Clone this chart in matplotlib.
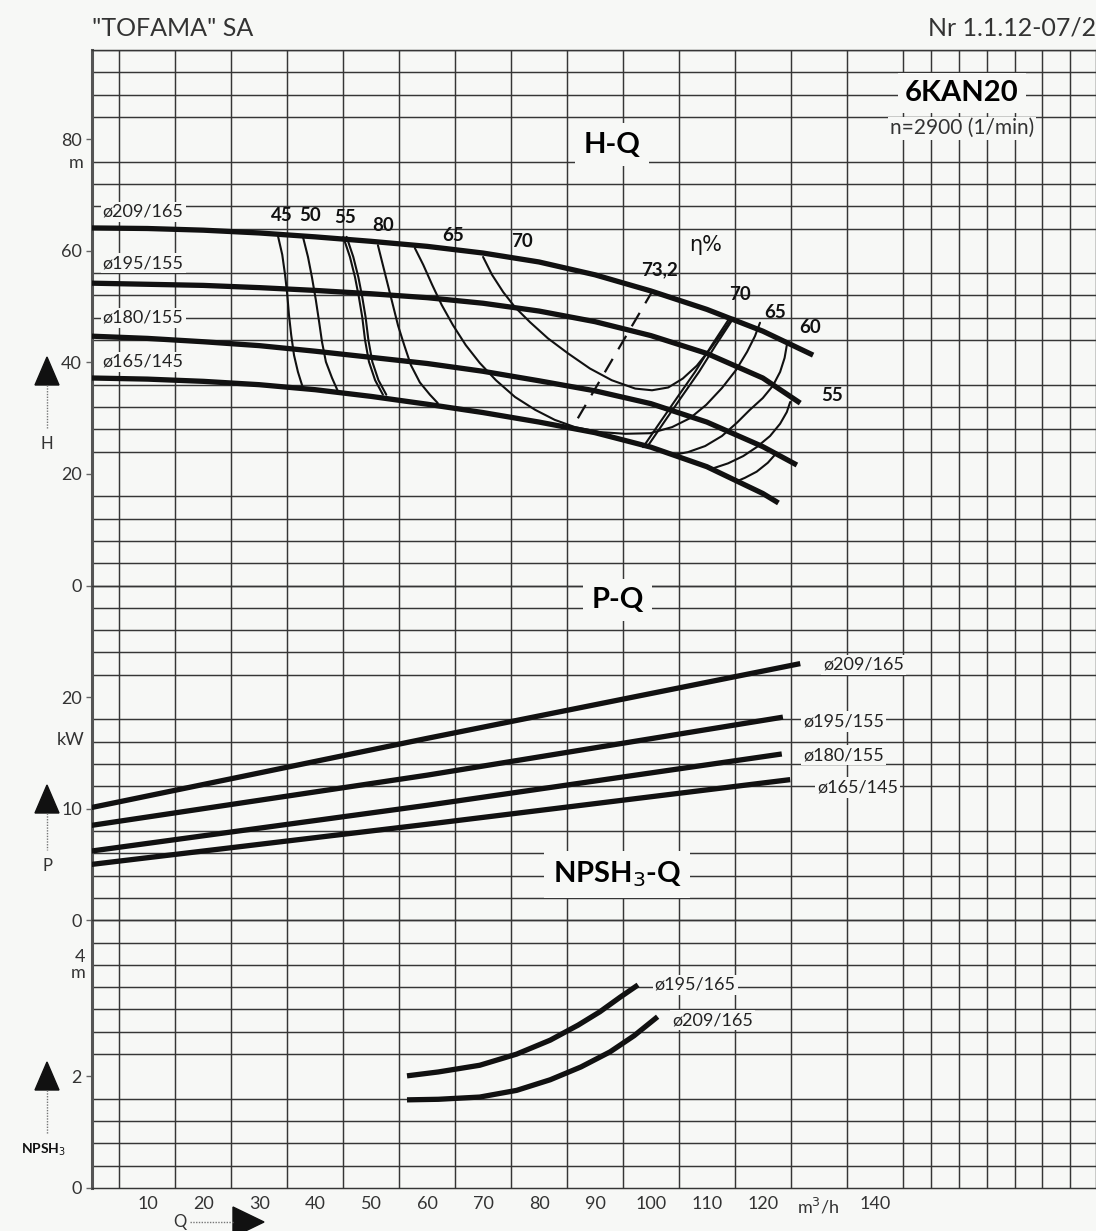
import numpy as np
import matplotlib.pyplot as plt
from matplotlib.patches import Polygon

plt.rcParams['font.family'] = ['Lato', 'DejaVu Sans']

W, HT = 1096, 1231
BG = '#f7f8f6'
INK = '#111111'
GRID = '#363636'

# flow axis (m3/h)
q_ticks = [10, 20, 30, 40, 50, 60, 70, 80, 90, 100, 110, 120, 130, 140]
q_ticklabels = ['10', '20', '30', '40', '50', '60', '70', '80', '90', '100', '110', '120', 'm$^3$/h', '140']

# H-Q curves for the four impellers
q_hq = [0, 10, 20, 30, 40, 50, 60, 70, 80, 90, 100, 110, 120]
h_209 = [64.1, 64.0, 63.7, 63.2, 62.5, 61.7, 60.8, 59.6, 58.0, 55.7, 52.8, 49.5, 45.6]
h_195 = [54.2, 54.0, 53.8, 53.4, 52.9, 52.3, 51.6, 50.6, 49.2, 47.3, 44.8, 41.6, 37.2]
h_180 = [44.7, 44.3, 43.7, 43.0, 42.0, 40.9, 39.8, 38.4, 36.7, 34.9, 32.6, 29.3, 24.9]
h_165 = [37.2, 37.0, 36.6, 36.0, 35.1, 33.9, 32.5, 31.0, 29.3, 27.4, 24.8, 21.3, 16.5]
q_end = [129.0, 126.7, 126.1, 122.8]
h_end = [41.3, 32.7, 21.6, 14.8]
hq_names = ['\u00f8209/165', '\u00f8195/155', '\u00f8180/155', '\u00f8165/145']

# iso-efficiency lines (Q, H)
eta45_q = [33.3, 34.1, 34.6, 35.0, 35.3, 35.7, 36.2, 36.9, 37.8]
eta45_h = [62.8, 59.3, 55.7, 52.1, 48.5, 44.9, 41.3, 38.3, 35.4]
eta50_q = [37.8, 38.7, 39.4, 40.1, 40.7, 41.2, 41.9, 43.0, 44.1]
eta50_h = [62.5, 58.9, 55.3, 51.2, 47.2, 43.7, 40.1, 37.2, 34.7]
eta55_q = [45.0, 46.2, 47.1, 47.8, 48.4, 48.9, 49.6, 50.7, 52.1]
eta55_h = [62.5, 58.9, 55.3, 51.7, 48.1, 44.0, 40.1, 36.8, 34.2]
eta60_q = [51.2, 52.1, 53.0, 53.9, 54.8, 55.9, 57.1, 58.7, 60.5, 61.9]
eta60_h = [61.0, 57.4, 53.8, 50.2, 46.6, 43.1, 39.5, 36.4, 34.2, 32.7]
eta65_q = [57.8, 59.3, 60.9, 62.6, 64.6, 66.9, 69.4, 72.3, 75.7, 79.3, 82.8, 86.4, 90.9,
           95.4, 99.9, 103.8, 107.0, 109.9, 112.7, 115.2, 117.2, 118.6, 119.5]
eta65_h = [60.5, 57.5, 53.9, 50.3, 46.7, 43.1, 39.9, 36.8, 33.8, 31.5, 29.7, 28.4, 27.5,
           27.2, 27.3, 28.4, 30.0, 32.4, 35.4, 38.6, 41.9, 44.7, 47.1]
eta70_q = [70.0, 71.6, 73.6, 75.7, 78.4, 81.6, 85.2, 89.1, 93.0, 97.2, 100.2, 103.1,
           105.7, 108.2, 110.6, 112.7, 114.5]
eta70_h = [58.9, 55.7, 52.6, 49.9, 47.2, 44.3, 41.6, 38.9, 36.8, 35.3, 35.0, 35.5,
           37.1, 39.4, 42.4, 45.3, 48.0]
eta70r_q = [114.1, 110.9, 107.9, 104.7, 101.6, 98.6]
eta70r_h = [48.0, 43.1, 38.3, 33.7, 29.2, 24.8]
eta60r_q = [124.3, 123.9, 123.1, 121.8, 120.0, 117.7, 115.4, 112.7, 109.7, 106.6, 103.9]
eta60r_h = [43.1, 40.8, 38.3, 35.8, 33.6, 31.5, 29.2, 26.8, 25.0, 23.9, 23.4]
eta55r_q = [124.9, 124.3, 123.1, 121.3, 118.9, 116.5, 113.8, 111.1]
eta55r_h = [32.9, 31.1, 29.0, 26.8, 24.8, 23.2, 21.9, 21.0]
eta55s_q = [122.5, 120.9, 118.9, 116.8, 115.4]
eta55s_h = [23.8, 22.0, 20.4, 19.3, 18.7]
best_q = [100.4, 85.9]
best_h = [53.0, 28.2]

eta_labels = ['45', '50', '55', '80', '65', '70', '73,2', '70', '65', '60', '55']
eta_lab_q = [34.1, 39.1, 45.3, 52.1, 64.6, 77.0, 101.6, 115.9, 122.2, 128.4, 132.4]
eta_lab_h = [66.4, 66.4, 65.9, 64.6, 62.8, 61.6, 56.6, 52.1, 49.0, 46.3, 34.0]

# P-Q lines (kW)
p_209_q = [0, 60, 126.7]
p_209 = [10.1, 16.3, 23.0]
p_195_q = [0, 60, 123.6]
p_195 = [8.5, 13.0, 18.2]
p_180_q = [0, 60, 123.4]
p_180 = [6.2, 10.3, 14.9]
p_165_q = [0, 60, 124.9]
p_165 = [5.0, 8.6, 12.6]

# NPSH3-Q curves (m)
npsh_195_q = [56.4, 62.0, 69.4, 76.0, 82.0, 87.0, 90.9, 94.5, 97.7]
npsh_195 = [2.01, 2.08, 2.20, 2.40, 2.65, 2.92, 3.16, 3.42, 3.64]
npsh_209_q = [56.4, 62.0, 69.4, 76.0, 82.0, 87.5, 92.7, 97.0, 101.2]
npsh_209 = [1.58, 1.59, 1.63, 1.75, 1.94, 2.17, 2.44, 2.73, 3.07]

fig = plt.figure(figsize=(W / 100, HT / 100), dpi=100, facecolor=BG)

x0 = 91.5
q_max = (W - x0) / 5.594
y_top, y_h0, y_p0, y_n0 = 50.0, 585.5, 920.2, 1188.0


def box(y_a, y_b):
    return [x0 / W, 1 - y_b / HT, (W - x0) / W, (y_b - y_a) / HT]


axH = fig.add_axes(box(y_top, y_h0))
axP = fig.add_axes(box(y_h0, y_p0), sharex=axH)
axN = fig.add_axes(box(y_p0, y_n0), sharex=axH)

for ax, ylim, ystep, ymaj in [(axH, 96, 4, [0, 20, 40, 60, 80]),
                              (axP, 30, 2, [0, 10, 20]),
                              (axN, 4.8, 0.4, [0, 2])]:
    ax.set_facecolor(BG)
    ax.set_xlim(0, q_max)
    ax.set_ylim(0, ylim)
    ax.set_xticks(np.arange(0, q_max, 5), minor=True)
    ax.set_yticks(np.arange(0, ylim + 0.01, ystep), minor=True)
    ax.set_yticks(ymaj)
    ax.grid(which='minor', color=GRID, lw=1.05)
    ax.tick_params(which='minor', length=0)
    ax.tick_params(axis='y', which='major', length=4, width=1, color='#666666',
                   labelsize=13, labelcolor='#333333', pad=3)
    for s in ['top', 'right', 'bottom']:
        ax.spines[s].set_color(GRID)
        ax.spines[s].set_linewidth(1.05)
    ax.spines['left'].set_color('#555555')
    ax.spines['left'].set_linewidth(2.2)
    ax.set_axisbelow(True)

axH.tick_params(axis='x', labelbottom=False, length=0)
axP.tick_params(axis='x', labelbottom=False, length=0)
axN.set_xticks(q_ticks)
axN.set_xticklabels(q_ticklabels)
axN.tick_params(axis='x', length=0, labelsize=13, labelcolor='#333333', pad=6)
axP.set_yticklabels(['0', '10', '20'])

lab_box = dict(facecolor=BG, edgecolor='none', pad=1.5)

# efficiency lines
eff = dict(color=INK, lw=1.5, solid_capstyle='round', solid_joinstyle='round', zorder=3)
axH.plot(eta45_q, eta45_h, **eff)
axH.plot(eta50_q, eta50_h, **eff)
axH.plot(eta55_q, eta55_h, **eff)
axH.plot(np.array(eta55_q) + 0.6, eta55_h, **eff)
axH.plot(eta60_q, eta60_h, **eff)
axH.plot(eta65_q, eta65_h, **eff)
axH.plot(eta70_q, eta70_h, **eff)
axH.plot(eta70r_q, eta70r_h, **eff)
axH.plot(np.array(eta70r_q) + 0.7, eta70r_h, **eff)
axH.plot(eta60r_q, eta60r_h, **eff)
axH.plot(eta55r_q, eta55r_h, **eff)
axH.plot(eta55s_q, eta55s_h, **eff)
axH.plot(best_q, best_h, color=INK, lw=1.6, dashes=(7, 5), zorder=3)

for t, q, h in zip(eta_labels, eta_lab_q, eta_lab_h):
    axH.text(q, h, t, fontsize=13.5, fontweight='bold', color=INK,
             ha='center', va='center', zorder=5)
axH.text(109.7, 61.0, '\u03b7%', fontsize=15, color=INK, ha='center', va='center',
         family=['DejaVu Sans'], zorder=5)

# head curves
for h, qe, he, name, ly in zip([h_209, h_195, h_180, h_165], q_end, h_end, hq_names,
                               [67.0, 57.8, 48.0, 40.1]):
    axH.plot(q_hq + [qe], h + [he], color=INK, lw=3.8, solid_capstyle='butt',
             solid_joinstyle='round', zorder=4)
    axH.text(2.0, ly, name, fontsize=13, color='#222222', ha='left', va='center',
             bbox=lab_box, zorder=2)

axH.text(93.1, 79.0, 'H-Q', fontsize=21, fontweight='bold', ha='center', va='center',
         bbox=dict(facecolor=BG, edgecolor='none', pad=6), zorder=5)
axH.text(155.6, 88.3, '6KAN20', fontsize=21, fontweight='bold', ha='center', va='center',
         bbox=dict(facecolor=BG, edgecolor='none', pad=5), zorder=5)
axH.text(155.6, 82.0, 'n=2900 (1/min)', fontsize=15, color='#333333', ha='center',
         va='center', bbox=dict(facecolor=BG, edgecolor='none', pad=1), zorder=5)

# power lines
for q, p, name, lq, lp in [(p_209_q, p_209, hq_names[0], 130.8, 22.9),
                           (p_195_q, p_195, hq_names[1], 127.2, 17.8),
                           (p_180_q, p_180, hq_names[2], 127.2, 14.8),
                           (p_165_q, p_165, hq_names[3], 129.7, 11.9)]:
    axP.plot(q, p, color=INK, lw=3.8, solid_capstyle='butt', zorder=4)
    axP.text(lq, lp, name, fontsize=13, color='#222222', ha='left', va='center',
             bbox=lab_box, zorder=5)

axP.text(94.0, 28.7, 'P-Q', fontsize=21, fontweight='bold', ha='center', va='center',
         bbox=dict(facecolor=BG, edgecolor='none', pad=6), zorder=5)
axP.text(94.0, 4.1, 'NPSH$_3$-Q', fontsize=21, fontweight='bold', ha='center', va='center',
         bbox=dict(facecolor=BG, edgecolor='none', pad=6), zorder=5)

# NPSH curves
axN.plot(npsh_195_q, npsh_195, color=INK, lw=3.8, solid_capstyle='butt',
         solid_joinstyle='round', zorder=4)
axN.plot(npsh_209_q, npsh_209, color=INK, lw=3.8, solid_capstyle='butt',
         solid_joinstyle='round', zorder=4)
axN.text(100.7, 3.64, '\u00f8195/165', fontsize=13, color='#222222', ha='left',
         va='center', bbox=lab_box, zorder=5)
axN.text(103.8, 3.01, '\u00f8209/165', fontsize=13, color='#222222', ha='left',
         va='center', bbox=lab_box, zorder=5)


def ftext(x, y, s, **kw):
    fig.text(x / W, 1 - y / HT, s, **kw)


def arrow_up(x, y_tip, y_stem):
    fig.patches.append(Polygon([(x / W, 1 - y_tip / HT), ((x - 12) / W, 1 - (y_tip + 28) / HT),
                                ((x + 12) / W, 1 - (y_tip + 28) / HT)],
                               closed=True, transform=fig.transFigure, color=INK))
    fig.add_artist(plt.Line2D([x / W, x / W], [1 - (y_tip + 28) / HT, 1 - y_stem / HT],
                              transform=fig.transFigure, color='#777777', lw=1.0, ls=(0, (1, 1))))


ftext(84, 163, 'm', fontsize=13, color='#333333', ha='right', va='center')
ftext(84, 740, 'kW', fontsize=13, color='#333333', ha='right', va='center')
ftext(85, 957, '4', fontsize=13, color='#333333', ha='right', va='center')
ftext(85, 973, 'm', fontsize=13, color='#333333', ha='right', va='center')

arrow_up(47, 357, 428)
ftext(47, 444, 'H', fontsize=12, color='#333333', ha='center', va='center')
arrow_up(47, 785, 850)
ftext(47, 866, 'P', fontsize=12, color='#333333', ha='center', va='center')
arrow_up(47, 1062, 1134)
ftext(44, 1150, 'NPSH$_3$', fontsize=10, fontweight='bold', color=INK, ha='center', va='center')

# Q arrow under the flow axis
ftext(180, 1222, 'Q', fontsize=12, color='#333333', ha='center', va='center')
fig.add_artist(plt.Line2D([190 / W, 234 / W], [1 - 1222 / HT, 1 - 1222 / HT],
                          transform=fig.transFigure, color='#777777', lw=1.0, ls=(0, (1, 1))))
fig.patches.append(Polygon([(264 / W, 1 - 1222 / HT), (233 / W, 1 - 1207 / HT), (233 / W, 1 - 1237 / HT)],
                           closed=True, transform=fig.transFigure, color=INK))

ftext(92, 28, '"TOFAMA" SA', fontsize=18, color='#333333', ha='left', va='center')
ftext(1096, 28, 'Nr 1.1.12-07/2', fontsize=18, color='#333333', ha='right', va='center')

fig.savefig('out.png', dpi=100, facecolor=BG)
